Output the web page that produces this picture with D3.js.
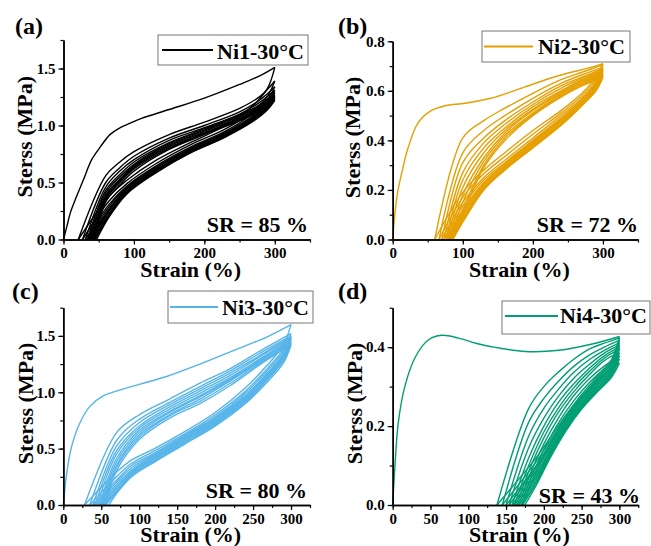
<!DOCTYPE html>
<html>
<head>
<meta charset="utf-8">
<title>Cyclic stress-strain curves, Ni1-Ni4 at 30 °C</title>
<style>
  body { margin: 0; background: #fff; }
  svg text { font-family: "Liberation Serif", "Times New Roman", serif; font-weight: bold; fill: #000; }
  .axis path, .axis line { stroke: #000; }
  .axis .domain { stroke-width: 1.5; }
  .axis .tick line { stroke-width: 1.2; }
</style>
</head>
<body>
<svg id="chart" width="651" height="546"></svg>
<script src="https://cdnjs.cloudflare.com/ajax/libs/d3/7.8.5/d3.min.js"></script>
<script>

// ---------- Ni1 (a) ----------
var firstLoadA = [[0,0],[5,0.12],[10,0.24],[18,0.37],[28,0.52],[40,0.70],[52,0.81],[66,0.92],[80,0.98],[95,1.02],[110,1.06],[150,1.14],[200,1.24],[250,1.36],[280,1.44],[300,1.51]];
var loadStrainA = [60, 80, 100, 150, 200, 250, 280, 300];
var loadsA = [
  [0.56, 0.68, 0.77, 0.92, 1.03, 1.15, 1.26, 1.39],
  [0.50, 0.63, 0.73, 0.89, 1.00, 1.12, 1.23, 1.34],
  [0.46, 0.60, 0.70, 0.87, 0.98, 1.10, 1.21, 1.31],
  [0.43, 0.57, 0.68, 0.85, 0.97, 1.09, 1.19, 1.29],
  [0.41, 0.55, 0.66, 0.84, 0.96, 1.08, 1.18, 1.27],
  [0.39, 0.53, 0.65, 0.83, 0.95, 1.07, 1.17, 1.26],
  [0.37, 0.52, 0.64, 0.82, 0.94, 1.06, 1.16, 1.25],
  [0.36, 0.51, 0.63, 0.81, 0.93, 1.05, 1.15, 1.24],
  [0.35, 0.50, 0.62, 0.80, 0.93, 1.05, 1.14, 1.23],
  [0.33, 0.48, 0.60, 0.79, 0.92, 1.04, 1.13, 1.22]
];
var unloadStrainA = [300, 290, 270, 230, 180, 130, 90, 65];
var unloadsA = [
  [1.51, 1.33, 1.18, 1.00, 0.85, 0.69, 0.52, 0.38],
  [1.39, 1.26, 1.13, 0.97, 0.83, 0.66, 0.49, 0.34],
  [1.34, 1.23, 1.11, 0.95, 0.81, 0.64, 0.47, 0.31],
  [1.31, 1.21, 1.09, 0.94, 0.80, 0.63, 0.46, 0.29],
  [1.29, 1.19, 1.08, 0.93, 0.79, 0.62, 0.45, 0.27],
  [1.27, 1.18, 1.07, 0.92, 0.78, 0.61, 0.44, 0.26],
  [1.26, 1.17, 1.06, 0.92, 0.78, 0.60, 0.43, 0.25],
  [1.25, 1.16, 1.06, 0.91, 0.77, 0.60, 0.42, 0.23],
  [1.24, 1.15, 1.05, 0.91, 0.77, 0.59, 0.41, 0.22],
  [1.23, 1.15, 1.05, 0.90, 0.76, 0.59, 0.41, 0.21],
  [1.22, 1.14, 1.04, 0.90, 0.76, 0.58, 0.40, 0.20]
];
var residualA = [21, 27, 31, 34, 36, 38, 40, 42, 44, 45, 47];

// ---------- Ni2 (b) ----------
var firstLoadB = [[0,0],[3,0.10],[7,0.19],[13,0.27],[22,0.37],[36,0.47],[55,0.52],[75,0.54],[103,0.55],[140,0.57],[188,0.615],[235,0.66],[283,0.695],[300,0.71]];
var loadStrainB = [100, 130, 160, 200, 240, 270, 300];
var loadsB = [
  [0.41, 0.48, 0.53, 0.59, 0.645, 0.675, 0.705],
  [0.35, 0.44, 0.50, 0.57, 0.63, 0.665, 0.695],
  [0.31, 0.41, 0.48, 0.555, 0.62, 0.655, 0.69],
  [0.27, 0.39, 0.465, 0.545, 0.61, 0.65, 0.685],
  [0.24, 0.37, 0.45, 0.535, 0.60, 0.645, 0.68],
  [0.21, 0.35, 0.44, 0.525, 0.595, 0.64, 0.675],
  [0.18, 0.33, 0.43, 0.52, 0.59, 0.635, 0.67],
  [0.15, 0.315, 0.42, 0.51, 0.585, 0.63, 0.665],
  [0.12, 0.30, 0.41, 0.505, 0.58, 0.625, 0.66],
  [0.10, 0.29, 0.40, 0.50, 0.575, 0.62, 0.655]
];
var unloadStrainB = [300, 290, 270, 240, 200, 160, 130, 100];
var unloadsB = [
  [0.71, 0.655, 0.59, 0.52, 0.44, 0.35, 0.28, 0.19],
  [0.705, 0.645, 0.58, 0.51, 0.425, 0.335, 0.265, 0.17],
  [0.695, 0.635, 0.57, 0.50, 0.41, 0.32, 0.25, 0.15],
  [0.69, 0.63, 0.565, 0.49, 0.40, 0.31, 0.24, 0.135],
  [0.685, 0.625, 0.56, 0.485, 0.395, 0.305, 0.23, 0.12],
  [0.68, 0.62, 0.555, 0.48, 0.39, 0.30, 0.225, 0.11],
  [0.675, 0.615, 0.55, 0.475, 0.385, 0.295, 0.22, 0.10],
  [0.67, 0.61, 0.548, 0.47, 0.38, 0.29, 0.213, 0.09],
  [0.665, 0.606, 0.545, 0.467, 0.376, 0.286, 0.208, 0.085],
  [0.66, 0.603, 0.542, 0.463, 0.373, 0.283, 0.204, 0.078],
  [0.655, 0.60, 0.54, 0.46, 0.37, 0.28, 0.20, 0.07]
];
var residualB = [60, 66, 70, 73, 76, 78, 80, 82, 83, 85, 86];

// ---------- Ni3 (c) ----------
var firstLoadC = [[0,0],[4.5,0.28],[11,0.52],[22,0.73],[35,0.875],[53,0.97],[70,1.01],[100,1.07],[136,1.14],[180,1.25],[224,1.37],[268,1.49],[300,1.60]];
var loadStrainC = [70, 100, 140, 180, 220, 260, 300];
var loadsC = [
  [0.64, 0.80, 0.94, 1.08, 1.21, 1.37, 1.52],
  [0.57, 0.76, 0.91, 1.05, 1.19, 1.35, 1.50],
  [0.52, 0.73, 0.89, 1.03, 1.17, 1.33, 1.49],
  [0.48, 0.70, 0.87, 1.01, 1.15, 1.32, 1.48],
  [0.45, 0.68, 0.85, 0.99, 1.13, 1.30, 1.47],
  [0.41, 0.66, 0.83, 0.97, 1.12, 1.29, 1.46],
  [0.38, 0.64, 0.82, 0.96, 1.11, 1.28, 1.45],
  [0.35, 0.62, 0.80, 0.94, 1.10, 1.27, 1.44],
  [0.33, 0.60, 0.79, 0.92, 1.08, 1.26, 1.43],
  [0.30, 0.58, 0.77, 0.90, 1.06, 1.25, 1.42]
];
var unloadStrainC = [300, 290, 270, 240, 200, 160, 120, 90, 70];
var unloadsC = [
  [1.60, 1.42, 1.25, 1.04, 0.82, 0.65, 0.50, 0.40, 0.29],
  [1.52, 1.38, 1.22, 1.01, 0.80, 0.63, 0.48, 0.37, 0.25],
  [1.50, 1.36, 1.20, 0.99, 0.78, 0.62, 0.46, 0.35, 0.22],
  [1.49, 1.34, 1.18, 0.97, 0.77, 0.61, 0.45, 0.33, 0.20],
  [1.48, 1.33, 1.17, 0.96, 0.76, 0.60, 0.44, 0.31, 0.18],
  [1.47, 1.32, 1.16, 0.95, 0.75, 0.59, 0.43, 0.30, 0.16],
  [1.46, 1.31, 1.15, 0.94, 0.74, 0.58, 0.42, 0.29, 0.15],
  [1.45, 1.30, 1.14, 0.93, 0.73, 0.57, 0.41, 0.28, 0.13],
  [1.44, 1.29, 1.13, 0.92, 0.72, 0.56, 0.40, 0.27, 0.12],
  [1.43, 1.28, 1.12, 0.91, 0.71, 0.55, 0.39, 0.26, 0.11],
  [1.42, 1.26, 1.10, 0.90, 0.70, 0.54, 0.38, 0.25, 0.10]
];
var residualC = [28, 35, 39, 42, 45, 48, 50, 52, 54, 56, 60];

// ---------- Ni4 (d) ----------
var firstLoadD = [[0,0],[3,0.10],[7.5,0.21],[16,0.30],[30,0.375],[47,0.418],[65,0.430],[87,0.423],[110,0.41],[131,0.401],[176,0.389],[220,0.392],[264,0.408],[300,0.427]];
var loadStrainD = [180, 200, 220, 240, 260, 280, 300];
var loadsD = [
  [0.245, 0.30, 0.338, 0.370, 0.395, 0.41, 0.423],
  [0.21, 0.27, 0.315, 0.352, 0.38, 0.40, 0.417],
  [0.175, 0.245, 0.295, 0.337, 0.368, 0.392, 0.411],
  [0.145, 0.22, 0.277, 0.322, 0.356, 0.385, 0.405],
  [0.12, 0.20, 0.262, 0.308, 0.346, 0.378, 0.40],
  [0.10, 0.185, 0.248, 0.298, 0.338, 0.372, 0.395],
  [0.085, 0.17, 0.237, 0.288, 0.33, 0.366, 0.386],
  [0.07, 0.155, 0.223, 0.278, 0.32, 0.352, 0.378],
  [0.055, 0.14, 0.21, 0.265, 0.31, 0.345, 0.37],
  [0.04, 0.125, 0.195, 0.25, 0.295, 0.33, 0.36]
];
var unloadStrainD = [300, 290, 270, 250, 230, 210, 190];
var unloadsD = [
  [0.427, 0.37, 0.325, 0.28, 0.23, 0.175, 0.12],
  [0.423, 0.365, 0.32, 0.275, 0.225, 0.168, 0.11],
  [0.417, 0.36, 0.316, 0.27, 0.22, 0.162, 0.10],
  [0.411, 0.355, 0.312, 0.266, 0.216, 0.157, 0.095],
  [0.405, 0.35, 0.308, 0.262, 0.212, 0.152, 0.088],
  [0.40, 0.346, 0.304, 0.258, 0.208, 0.147, 0.08],
  [0.395, 0.342, 0.30, 0.255, 0.204, 0.142, 0.074],
  [0.386, 0.338, 0.296, 0.252, 0.20, 0.138, 0.068],
  [0.378, 0.334, 0.292, 0.249, 0.197, 0.134, 0.062],
  [0.37, 0.33, 0.289, 0.246, 0.194, 0.13, 0.056],
  [0.36, 0.325, 0.285, 0.243, 0.19, 0.125, 0.05]
];
var residualD = [138, 145, 150, 154, 158, 161, 164, 167, 170, 172, 175];

var panels = [
  {tag:"(a)", name:"Ni1-30°C", sr:"SR = 85 %", color:"#000000",
   firstLoad:firstLoadA, loadStrain:loadStrainA, loads:loadsA, unloadStrain:unloadStrainA, unloads:unloadsA, residual:residualA,
   left:63.5, right:310, bottom:239.5, top:40, xMax:350, xStep:100, xMinor:50, yMax:1.75, yStep:0.5, yMinor:0.25,
   tagX:15, tagY:34, box:[158,35,150,30], lineX:[162,213], lineY:50, textX:217, textY:58.5, srX:308, srY:232, yTitleX:32, xTitleY:277},
  {tag:"(b)", name:"Ni2-30°C", sr:"SR = 72 %", color:"#E69F00",
   firstLoad:firstLoadB, loadStrain:loadStrainB, loads:loadsB, unloadStrain:unloadStrainB, unloads:unloadsB, residual:residualB,
   left:392.7, right:638, bottom:239.5, top:41.3, xMax:350, xStep:100, xMinor:50, yMax:0.8, yStep:0.2, yMinor:0.1,
   tagX:338, tagY:34, box:[482,31,148,31], lineX:[484,533], lineY:46.5, textX:538, textY:54, srX:638, srY:232, yTitleX:360, xTitleY:277},
  {tag:"(c)", name:"Ni3-30°C", sr:"SR = 80 %", color:"#56B4E9",
   firstLoad:firstLoadC, loadStrain:loadStrainC, loads:loadsC, unloadStrain:unloadStrainC, unloads:unloadsC, residual:residualC,
   left:63.3, right:310, bottom:505, top:307.7, xMax:325, xStep:50, xMinor:25, yMax:1.75, yStep:0.5, yMinor:0.25,
   tagX:12, tagY:299, box:[168,291,145,32], lineX:[170,218], lineY:307, textX:222, textY:315, srX:307, srY:498, yTitleX:33, xTitleY:541.5},
  {tag:"(d)", name:"Ni4-30°C", sr:"SR = 43 %", color:"#009E73",
   firstLoad:firstLoadD, loadStrain:loadStrainD, loads:loadsD, unloadStrain:unloadStrainD, unloads:unloadsD, residual:residualD,
   left:392.7, right:638.3, bottom:505, top:307.7, xMax:325, xStep:50, xMinor:25, yMax:0.5, yStep:0.2, yMinor:0.1,
   tagX:338, tagY:299, box:[502,301,148,33], lineX:[505,558], lineY:316, textX:560, textY:323, srX:640, srY:503, yTitleX:362, xTitleY:541.5}
];

var svg = d3.select("#chart");

function drawPanel(p) {
  var g = svg.append("g");
  var x = d3.scaleLinear().domain([0, p.xMax]).range([p.left, p.right]);
  var y = d3.scaleLinear().domain([0, p.yMax]).range([p.bottom, p.top]);

  // curves: first loading, then alternating unloading / reloading
  var line = d3.line()
      .x(function(d) { return x(d[0]); })
      .y(function(d) { return y(d[1]); })
      .curve(d3.curveCatmullRom.alpha(0.5));

  var curves = [];
  p.unloads.forEach(function(u, i) {
    var load = i === 0 ? p.firstLoad :
      [[p.residual[i - 1], 0]].concat(p.loadStrain.map(function(s, j) { return [s, p.loads[i - 1][j]]; }));
    var unload = p.unloadStrain.map(function(s, j) { return [s, u[j]]; }).concat([[p.residual[i], 0]]);
    curves.push(load, unload);
  });

  g.append("g").selectAll("path")
    .data(curves)
    .enter().append("path")
      .attr("d", line)
      .attr("fill", "none")
      .attr("stroke", p.color)
      .attr("stroke-width", 1.4);

  // axes (minor ticks first, major with labels on top)
  var eps = 1e-9;
  var xMinor = d3.range(0, p.xMax + eps, p.xMinor);
  var xMajor = d3.range(0, p.xMax + eps, p.xStep);
  var yMinor = d3.range(0, p.yMax + eps, p.yMinor);
  var yMajor = d3.range(0, p.yMax + eps, p.yStep);

  g.append("g").attr("class", "axis")
    .attr("transform", "translate(0," + p.bottom + ")")
    .call(d3.axisBottom(x).tickValues(xMinor).tickSize(3).tickSizeOuter(0).tickFormat(""));
  g.append("g").attr("class", "axis")
    .attr("transform", "translate(0," + p.bottom + ")")
    .call(d3.axisBottom(x).tickValues(xMajor).tickSize(5).tickPadding(3).tickSizeOuter(0).tickFormat(d3.format("d")))
    .selectAll("text").style("font-size", "15px");

  g.append("g").attr("class", "axis")
    .attr("transform", "translate(" + p.left + ",0)")
    .call(d3.axisLeft(y).tickValues(yMinor).tickSize(3).tickSizeOuter(0).tickFormat(""));
  g.append("g").attr("class", "axis")
    .attr("transform", "translate(" + p.left + ",0)")
    .call(d3.axisLeft(y).tickValues(yMajor).tickSize(5).tickPadding(3).tickSizeOuter(0).tickFormat(d3.format(".1f")))
    .selectAll("text").style("font-size", "15px");

  g.selectAll(".axis text").attr("fill", "#000");

  // axis titles
  g.append("text")
    .attr("x", (p.left + p.right) / 2 + 4)
    .attr("y", p.xTitleY)
    .attr("text-anchor", "middle")
    .style("font-size", "22px")
    .text("Strain (%)");
  g.append("text")
    .attr("transform", "translate(" + p.yTitleX + "," + ((p.top + p.bottom) / 2 - 3) + ") rotate(-90)")
    .attr("text-anchor", "middle")
    .style("font-size", "22px")
    .text("Sterss (MPa)");

  // panel tag
  g.append("text").attr("x", p.tagX).attr("y", p.tagY)
    .style("font-size", "24px").text(p.tag);

  // legend
  g.append("rect")
    .attr("x", p.box[0]).attr("y", p.box[1]).attr("width", p.box[2]).attr("height", p.box[3])
    .attr("fill", "#fff").attr("stroke", "#777").attr("stroke-width", 1);
  g.append("line")
    .attr("x1", p.lineX[0]).attr("x2", p.lineX[1]).attr("y1", p.lineY).attr("y2", p.lineY)
    .attr("stroke", p.color).attr("stroke-width", 2);
  g.append("text").attr("x", p.textX).attr("y", p.textY)
    .style("font-size", "22px").text(p.name);

  // shape recovery
  g.append("text").attr("x", p.srX).attr("y", p.srY)
    .attr("text-anchor", "end")
    .style("font-size", "22px").text(p.sr);
}

panels.forEach(drawPanel);

</script>
</body>
</html>
